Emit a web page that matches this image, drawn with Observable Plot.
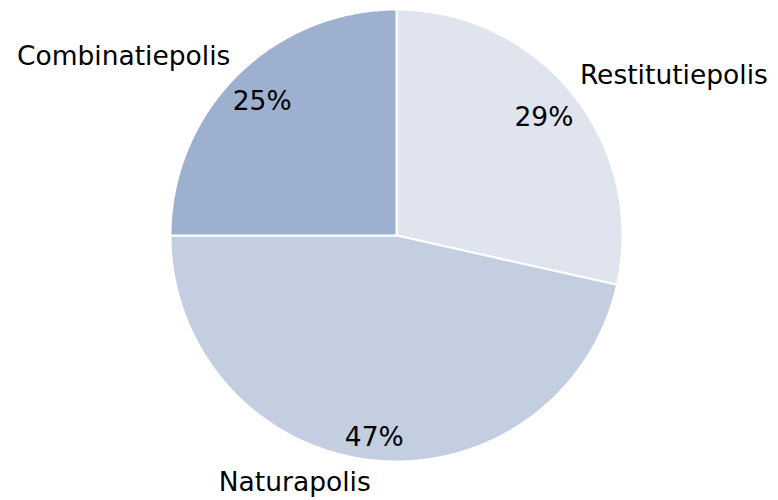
<!DOCTYPE html>
<html>
<head>
<meta charset="utf-8">
<script src="https://cdn.jsdelivr.net/npm/d3@7"></script>
<script src="https://cdn.jsdelivr.net/npm/@observablehq/plot@0.6"></script>
<style>
  html, body { margin: 0; padding: 0; background: #fff; }
  #chart svg { display: block; }
</style>
</head>
<body>
<div id="chart"></div>
<script>
// Data
const categories = ["Restitutiepolis", "Naturapolis", "Combinatiepolis"];
const shares = [28.5, 46.5, 25];
const percentLabels = ["29%", "47%", "25%"];
const colors = ["#dfe4ef", "#c3cee0", "#9eb0cf"];

// Layout
const W = 778, H = 500;
const cx = 396, cy = 235, Rpx = 226;
const fontSize = 26.5;

// Build slices (start at 12 o'clock, clockwise)
const total = d3.sum(shares);
let acc = 0;
const slices = categories.map((name, i) => {
  const a0 = acc / total * 2 * Math.PI;
  acc += shares[i];
  const a1 = acc / total * 2 * Math.PI;
  return {name, a0, a1, mid: (a0 + a1) / 2, pct: percentLabels[i]};
});

const polyPts = [];
for (const s of slices) {
  polyPts.push({name: s.name, x: 0, y: 0});
  const n = Math.max(2, Math.ceil((s.a1 - s.a0) / 0.01));
  for (let k = 0; k <= n; k++) {
    const a = s.a0 + (s.a1 - s.a0) * k / n;
    polyPts.push({name: s.name, x: Math.sin(a), y: Math.cos(a)});
  }
  polyPts.push({name: s.name, x: 0, y: 0});
}

// Percent labels: fit a text box inside the slice near the rim
const hw = 30 / Rpx, hh = 12 / Rpx, pad = 6 / Rpx;
const pctData = slices.map(s => {
  const ux = Math.abs(Math.sin(s.mid)), uy = Math.abs(Math.cos(s.mid));
  let lo = 0, hi = 1;
  for (let it = 0; it < 50; it++) {
    const r = (lo + hi) / 2;
    const d = Math.hypot(ux * r + hw, uy * r + hh);
    if (d <= 1 - pad) lo = r; else hi = r;
  }
  return {label: s.pct, x: lo * Math.sin(s.mid), y: lo * Math.cos(s.mid)};
});

// Category labels: nearest corner of the text box sits just outside the rim at mid angle
const outR = 1 + 9 / Rpx, catHalfH = 13 / Rpx;
const catData = slices.map(s => {
  const sx = Math.sin(s.mid), sy = Math.cos(s.mid);
  return {
    label: s.name,
    x: outR * sx,
    y: outR * sy + (sy >= 0 ? catHalfH : -catHalfH),
    anchor: sx >= 0 ? "start" : "end"
  };
});

const chart = Plot.plot({
  width: W,
  height: H,
  marginLeft: cx - Rpx,
  marginRight: W - (cx + Rpx),
  marginTop: cy - Rpx,
  marginBottom: H - (cy + Rpx),
  x: {domain: [-1, 1], axis: null},
  y: {domain: [-1, 1], axis: null},
  color: {domain: categories, range: colors},
  style: {fontFamily: "DejaVu Sans, Verdana, sans-serif", background: "#fff"},
  marks: [
    Plot.line(polyPts, {x: "x", y: "y", z: "name", fill: "name", stroke: "#fff", strokeWidth: 2, curve: "linear", strokeLinejoin: "round"}),
    Plot.text(pctData, {x: "x", y: "y", text: "label", fontSize, fill: "#000", textAnchor: "middle", lineAnchor: "middle"}),
    Plot.text(catData.filter(d => d.anchor === "start"), {x: "x", y: "y", text: "label", fontSize, fill: "#000", textAnchor: "start", lineAnchor: "middle"}),
    Plot.text(catData.filter(d => d.anchor === "end"), {x: "x", y: "y", text: "label", fontSize, fill: "#000", textAnchor: "end", lineAnchor: "middle"})
  ]
});
document.getElementById("chart").appendChild(chart);
</script>
</body>
</html>
